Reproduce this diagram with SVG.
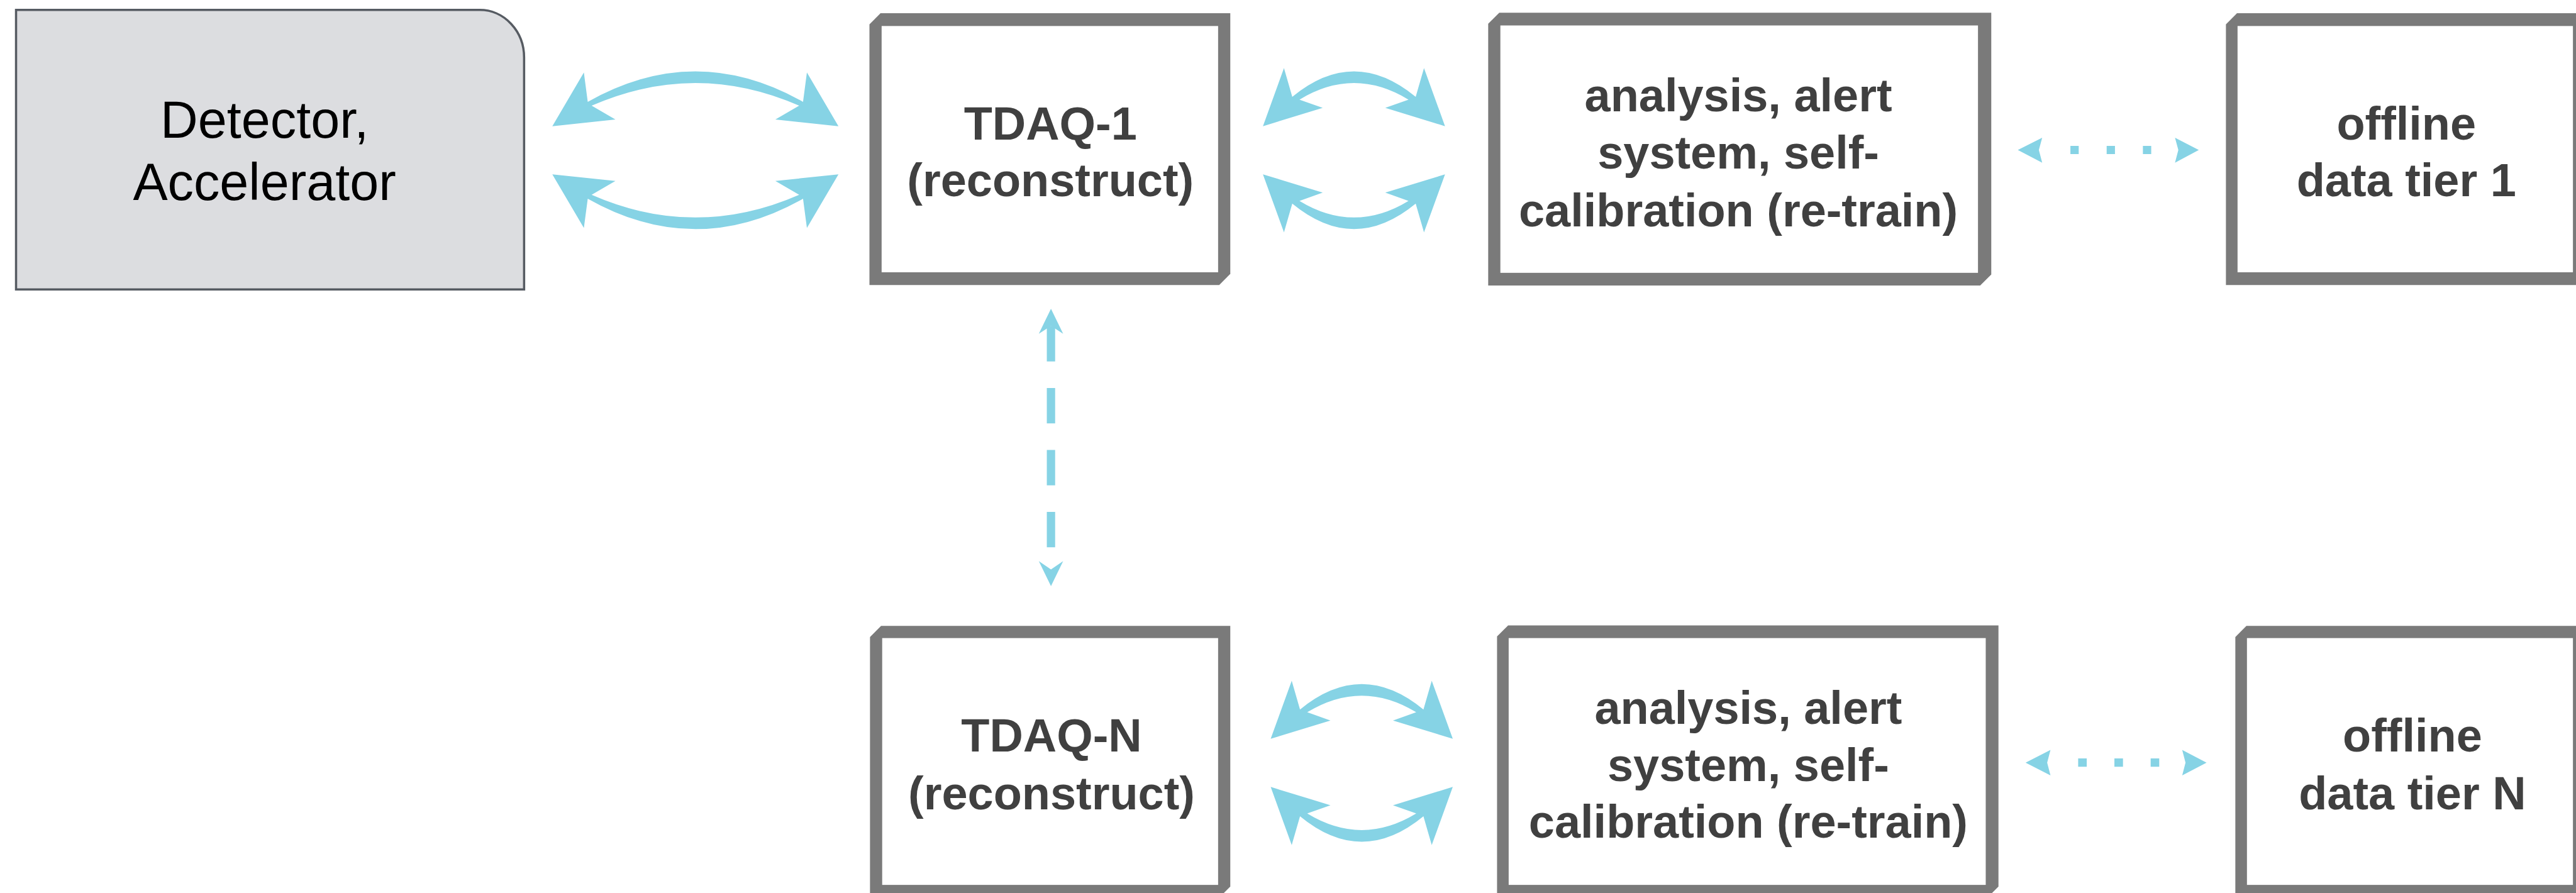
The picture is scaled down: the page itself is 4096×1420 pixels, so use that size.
<svg xmlns="http://www.w3.org/2000/svg" width="4096" height="1420" viewBox="0 0 4096 1420">
<defs>
<style>
.frame{fill:#7a7a7a}
.inner{fill:#ffffff}
.lbl{font-family:"Liberation Sans",Arial,Helvetica,sans-serif;font-weight:bold;font-size:84px;fill:#404040;text-anchor:middle}
.lblr{font-family:"Liberation Sans",Arial,Helvetica,sans-serif;font-size:94px;fill:#000000;text-anchor:middle}
.arr{fill:#86d3e5}
.dash{stroke:#86d3e5;stroke-width:15;fill:none}
</style>
<path id="curveA" d="M998,228 L1055,131 L1062,184 Q1256.5,74 1451,184 L1458,131 L1515,228 L1401,216 L1444,191 Q1256.5,109 1069,191 L1112,216 Z"/>
<path id="curveB" d="M2282,228 L2320,123 L2335,175 Q2446.5,83 2558,175 L2573,123 L2611,228 L2503,195 L2545,180 Q2446.5,120 2348,180 L2390,195 Z"/>
</defs>
<rect x="0" y="0" width="4096" height="1420" fill="#ffffff"/>
<g transform="scale(0.88)">
  <g id="detector">
    <path d="M29,18 H867 A80,86 0 0 1 947,104 V523 H29 Z" fill="#dcdde0" stroke="#565b62" stroke-width="4"/>
    <text class="lblr" x="478" y="249">Detector,</text>
    <text class="lblr" x="478" y="361">Accelerator</text>
  </g>
  <g id="tdaq1">
    <path class="frame" d="M1571,44 L1591,24 H2223 V495 L2203,515 H1571 Z"/>
    <rect class="inner" x="1593" y="47" width="608" height="445"/>
    <text class="lbl" x="1898" y="252">TDAQ-1</text>
    <text class="lbl" x="1898" y="355">(reconstruct)</text>
  </g>
  <g id="analysis1">
    <path class="frame" d="M2689,43 L2709,23 H3598 V496 L3578,516 H2689 Z"/>
    <rect class="inner" x="2711" y="46" width="863" height="447"/>
    <text class="lbl" x="3141" y="201">analysis, alert</text>
    <text class="lbl" x="3141" y="305">system, self-</text>
    <text class="lbl" x="3141" y="409">calibration (re-train)</text>
  </g>
  <g id="offline1">
    <path class="frame" d="M4022,44 L4042,24 H4680 V515 H4022 Z"/>
    <rect class="inner" x="4043" y="47" width="606" height="445"/>
    <text class="lbl" x="4348" y="252">offline</text>
    <text class="lbl" x="4348" y="355">data tier 1</text>
  </g>
  <g id="tdaqN">
    <path class="frame" d="M1572,1151 L1592,1131 H2223 V1602 L2203,1622 H1572 Z"/>
    <rect class="inner" x="1594" y="1153" width="607" height="446"/>
    <text class="lbl" x="1900" y="1358">TDAQ-N</text>
    <text class="lbl" x="1900" y="1462">(reconstruct)</text>
  </g>
  <g id="analysisN">
    <path class="frame" d="M2705,1150 L2725,1130 H3611 V1602 L3591,1622 H2705 Z"/>
    <rect class="inner" x="2726" y="1153" width="862" height="446"/>
    <text class="lbl" x="3159" y="1308">analysis, alert</text>
    <text class="lbl" x="3159" y="1411">system, self-</text>
    <text class="lbl" x="3159" y="1514">calibration (re-train)</text>
  </g>
  <g id="offlineN">
    <path class="frame" d="M4039,1151 L4059,1131 H4680 V1622 H4039 Z"/>
    <rect class="inner" x="4060" y="1153" width="589" height="446"/>
    <text class="lbl" x="4359" y="1358">offline</text>
    <text class="lbl" x="4359" y="1462">data tier N</text>
  </g>
  <g id="connectors">
    <use href="#curveA" class="arr"/>
    <use href="#curveA" class="arr" transform="matrix(1 0 0 -1 0 543)"/>
    <use href="#curveB" class="arr"/>
    <use href="#curveB" class="arr" transform="matrix(1 0 0 -1 0 543)"/>
    <use href="#curveB" class="arr" transform="translate(14 1107)"/>
    <use href="#curveB" class="arr" transform="matrix(1 0 0 -1 14 1650)"/>
    <path class="arr" d="M1899,558 L1921,603 L1899,589 L1877,603 Z"/>
    <path class="arr" d="M1899,1059 L1921,1014 L1899,1029 L1877,1014 Z"/>
    <line class="dash" x1="1899" y1="589" x2="1899" y2="1029" stroke-dasharray="64 48"/>
    <path class="arr" d="M3646,271 L3690,249 L3684,271 L3690,294 Z"/>
    <path class="arr" d="M3973,271 L3930,249 L3936,271 L3930,294 Z"/>
    <line class="dash" x1="3741" y1="271" x2="3887" y2="271" stroke-dasharray="15 50.5"/>
    <path class="arr" d="M3660,1378 L3705,1355 L3699,1378 L3705,1401 Z"/>
    <path class="arr" d="M3987,1378 L3943,1355 L3949,1378 L3943,1401 Z"/>
    <line class="dash" x1="3755" y1="1378" x2="3902" y2="1378" stroke-dasharray="15.5 50"/>
  </g>
</g>
</svg>
